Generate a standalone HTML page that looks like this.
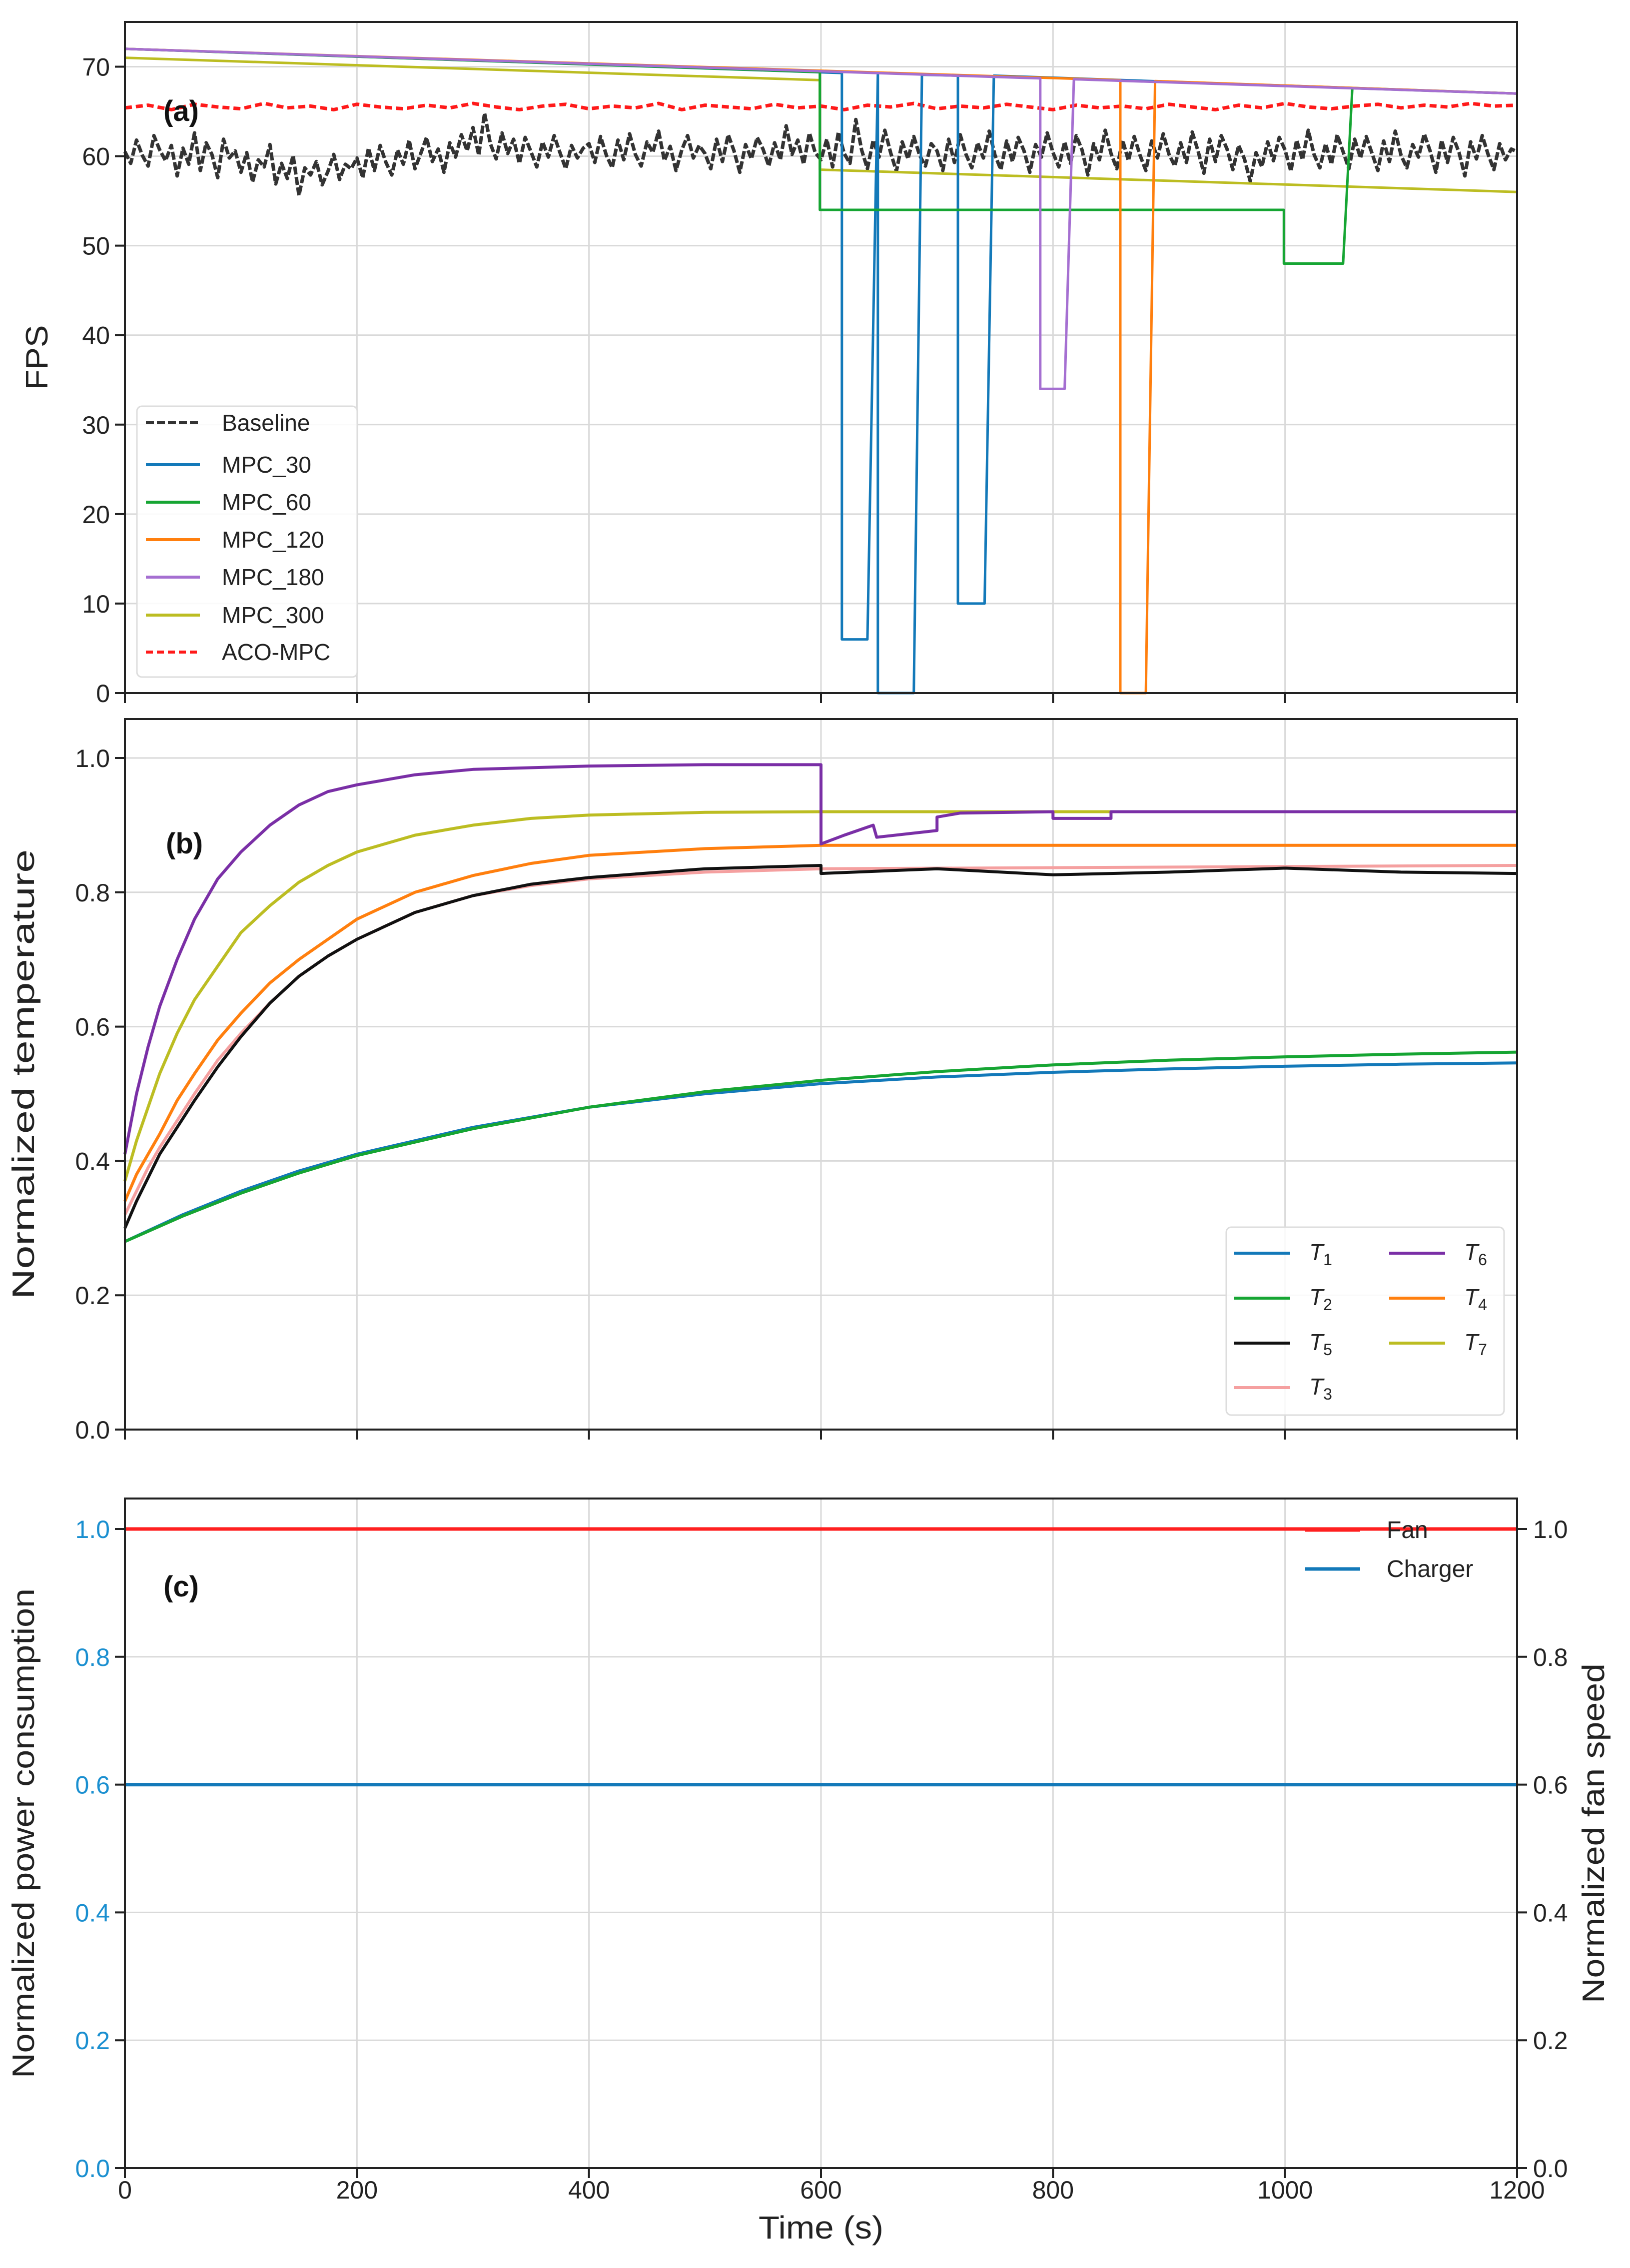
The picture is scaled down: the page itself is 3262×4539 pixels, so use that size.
<!DOCTYPE html>
<html><head><meta charset="utf-8"><style>
html,body{margin:0;padding:0;background:#fff;}
svg{display:block;font-family:"Liberation Sans",sans-serif;}
</style></head><body>
<svg id="chart" width="3262" height="4539" viewBox="0 0 3262 4539" xmlns="http://www.w3.org/2000/svg"></svg>
<script>
// ---------- data ----------
const xTicks = [0,200,400,600,800,1000,1200];
const fpsTicks = [0,10,20,30,40,50,60,70];
const tempTicks = [0,0.2,0.4,0.6,0.8,1.0];
const powTicks = [0,0.2,0.4,0.6,0.8,1.0];

const baselineStep = 5;
const baselineVals = [
60.5,59.2,61.8,60.1,58.9,62.3,60.7,59.5,61.2,57.8,60.9,59.1,62.6,58.4,61.5,60.2,57.6,61.9,59.8,60.6,
58.2,60.4,57.1,59.6,58.8,61.3,56.9,59.2,57.5,60.1,55.6,58.7,57.9,59.4,56.8,58.3,60.2,57.4,59.1,58.6,
59.8,57.6,60.9,58.4,61.2,59.3,57.9,60.7,59.1,61.8,58.6,60.3,62.1,59.4,60.8,58.2,61.5,59.9,62.4,60.6,
63.2,60.1,64.8,61.4,59.7,62.6,60.3,61.9,59.2,62.1,60.5,58.8,61.6,59.9,62.3,60.4,58.6,61.2,59.8,60.9,
61.4,59.3,62.2,60.1,58.7,61.8,59.6,62.5,60.2,58.9,61.6,60.4,62.8,59.5,61.1,58.4,60.7,62.3,59.8,61.2,
60.3,58.6,61.9,59.4,62.4,60.6,58.2,61.3,59.7,62.1,60.8,58.9,61.5,59.6,63.4,60.2,61.8,59.1,62.6,60.4,
59.6,61.9,58.8,62.7,60.3,59.2,64.1,60.7,58.6,61.8,59.9,62.9,60.4,58.3,61.6,59.7,62.2,60.1,58.9,61.4,
60.6,58.4,61.9,59.3,62.4,60.2,58.7,61.5,59.8,62.8,60.1,58.5,61.7,59.4,62.1,60.6,58.2,61.3,59.9,62.6,
60.4,58.8,61.6,59.2,62.3,60.7,57.9,61.4,59.6,62.9,60.3,58.6,61.8,59.5,62.2,60.1,58.4,61.7,59.8,62.5,
60.2,58.9,61.5,59.3,62.7,60.6,58.1,61.9,59.4,62.3,60.8,58.5,61.2,59.7,57.2,60.4,58.8,61.6,59.5,62.1,
60.7,58.3,61.8,59.6,62.9,60.2,58.7,61.4,59.1,62.4,60.5,58.6,61.9,59.8,62.2,60.3,58.4,61.7,59.4,62.8,
60.1,58.7,61.3,59.9,62.5,60.6,58.2,61.8,59.3,62.1,60.4,57.8,61.6,59.7,62.3,60.2,58.5,61.4,59.6,60.8,
60.5];
const acoStep = 20;
const acoVals = [65.4,65.7,65.2,65.8,65.5,65.3,65.9,65.4,65.6,65.2,65.8,65.5,65.3,65.7,65.4,65.9,65.5,65.2,65.6,65.8,
65.3,65.6,65.4,65.9,65.2,65.7,65.5,65.3,65.8,65.4,65.6,65.2,65.7,65.5,65.9,65.3,65.6,65.4,65.8,65.5,
65.2,65.7,65.4,65.6,65.3,65.8,65.5,65.2,65.7,65.4,65.9,65.5,65.3,65.6,65.8,65.4,65.7,65.5,65.9,65.6,65.7];

const mpc30T = [0,618,618,640,649,649,680,687,718,718,741,749,1200];
const mpc30V = [72,69.3,6,6,69.2,0,0,69.1,69.0,10,10,69.0,67];
const mpc60T = [0,599,599,999,999,1050,1058,1200];
const mpc60V = [72,69.4,54,54,48,48,67.6,67];
const mpc120T = [0,858,858,880,888,1200];
const mpc120V = [72,68.5,0,0,68.4,67];
const mpc180T = [0,789,789,810,818,1200];
const mpc180V = [72,68.7,34,34,68.6,67];
const mpc300T = [0,599,599,1200];
const mpc300V = [71,68.5,58.5,56];

const t6T = [0,10,20,30,45,60,80,100,125,150,175,200,250,300,400,500,600,600,620,645,648,700,700,720,800,800,850,850,1200];
const t6V = [0.41,0.5,0.57,0.63,0.7,0.76,0.82,0.86,0.9,0.93,0.95,0.96,0.975,0.983,0.988,0.99,0.99,0.872,0.885,0.9,0.882,0.892,0.912,0.918,0.92,0.91,0.91,0.92,0.92];
const t7T = [0,10,20,30,45,60,80,100,125,150,175,200,250,300,350,400,500,600,1200];
const t7V = [0.37,0.43,0.48,0.53,0.59,0.64,0.69,0.74,0.78,0.815,0.84,0.86,0.885,0.9,0.91,0.915,0.919,0.92,0.92];
const t4T = [0,10,20,30,45,60,80,100,125,150,175,200,250,300,350,400,500,600,1200];
const t4V = [0.34,0.38,0.41,0.44,0.49,0.53,0.58,0.62,0.665,0.7,0.73,0.76,0.8,0.825,0.843,0.855,0.865,0.87,0.87];
const t3T = [0,10,20,30,45,60,80,100,125,150,175,200,250,300,350,400,500,600,1200];
const t3V = [0.32,0.355,0.39,0.42,0.46,0.5,0.55,0.59,0.635,0.675,0.705,0.73,0.77,0.795,0.81,0.82,0.83,0.835,0.84];
const t5T = [0,10,20,30,45,60,80,100,125,150,175,200,250,300,350,400,500,600,600,700,800,900,1000,1100,1200];
const t5V = [0.3,0.34,0.375,0.41,0.45,0.49,0.54,0.585,0.635,0.675,0.705,0.73,0.77,0.795,0.812,0.822,0.835,0.84,0.828,0.835,0.826,0.83,0.836,0.83,0.828];
const t1T = [0,50,100,150,200,300,400,500,600,700,800,900,1000,1100,1200];
const t1V = [0.28,0.32,0.355,0.385,0.41,0.45,0.48,0.5,0.515,0.525,0.532,0.537,0.541,0.544,0.546];
const t2T = [0,50,100,150,200,300,400,500,600,700,800,900,1000,1100,1200];
const t2V = [0.28,0.318,0.352,0.382,0.408,0.448,0.48,0.503,0.52,0.533,0.543,0.55,0.555,0.559,0.562];

const fanT = [0,1200];
const fanV = [1.0,1.0];
const chargerT = [0,1200];
const chargerV = [0.6,0.6];

// ---------- layout ----------
const L=250,R=3036;
const xS = t => L + t*(R-L)/1200;
const A={top:44,bot:1387,max:75};
const B={top:1439,bot:2861,max:1.058};
const C={top:2999,bot:4339,max:1.0477};
const yS = (P,v) => P.bot - v*(P.bot-P.top)/P.max;

const svg=document.getElementById('chart');
const NS='http://www.w3.org/2000/svg';
function mk(tag,attrs,parent){const e=document.createElementNS(NS,tag);for(const k in attrs)e.setAttribute(k,attrs[k]);(parent||svg).appendChild(e);return e;}
function txt(s,attrs,parent){const e=mk('text',attrs,parent);e.textContent=s;return e;}

function panel(P,yt,fmt,name,tickColor){
  const g=mk('g',{});
  
  
  xTicks.forEach(t=>{const l=mk('line',{x1:xS(t),x2:xS(t),y1:P.top,y2:P.bot,stroke:'#d9d9d9','stroke-width':3},g);
    
    });
  yt.forEach(v=>{const l=mk('line',{x1:L,x2:R,y1:yS(P,v),y2:yS(P,v),stroke:'#d9d9d9','stroke-width':3},g);
    
    
    const tk=mk('line',{x1:L-20,x2:L,y1:yS(P,v),y2:yS(P,v),stroke:'#222','stroke-width':4},g);
    
    
    const lb=txt(fmt(v),{x:L-30,y:yS(P,v)+18,'text-anchor':'end','font-size':50,fill:tickColor||'#222'},g);
    
    });
  xTicks.forEach(t=>{const tk=mk('line',{x1:xS(t),x2:xS(t),y1:P.bot,y2:P.bot+20,stroke:'#222','stroke-width':4},g);
    
    });
  return g;
}
function frame(P){const r=mk('rect',{x:L,y:P.top,width:R-L,height:P.bot-P.top,fill:'none',stroke:'#222','stroke-width':4});
  
  }
function series(P,T,V,color,w,dash,name){
  let d='';T.forEach((t,i)=>{d+=(i?'L':'M')+xS(t).toFixed(1)+','+yS(P,V[i]).toFixed(1);});
  const p=mk('path',{d:d,fill:'none',stroke:color,'stroke-width':w,'stroke-linejoin':'round'});
  if(dash)p.setAttribute('stroke-dasharray',dash);
  
  
  return p;
}
function stepSeries(P,vals,step,color,w,dash,name){
  const T=vals.map((v,i)=>i*step);return series(P,T,vals,color,w,dash,name);
}
function vtitle(s,cx,cy,len,name){
  const e=txt(s,{x:0,y:0,'font-size':62,'text-anchor':'middle',textLength:len,lengthAdjust:'spacingAndGlyphs',transform:'translate('+cx+','+cy+') rotate(-90)',fill:'#222'});
  
  
}

const BLUE='#1379b9',GREEN='#16a533',ORANGE='#ff7f0e',PURPLE='#a56fd1',OLIVE='#bcbd22';

// ---------- panel a ----------
panel(A,fpsTicks,v=>String(v),'fps-panel');
stepSeries(A,baselineVals,baselineStep,'#333',7,'16 5','baseline-line');
stepSeries(A,acoVals,acoStep,'#ff1a1a',7,'14 8','aco-mpc-line');
series(A,mpc300T,mpc300V,OLIVE,5,null,'mpc-300-line');
series(A,mpc30T,mpc30V,BLUE,5,null,'mpc-30-line');
series(A,mpc60T,mpc60V,GREEN,5,null,'mpc-60-line');
series(A,mpc120T,mpc120V,ORANGE,5,null,'mpc-120-line');
series(A,mpc180T,mpc180V,PURPLE,5,null,'mpc-180-line');
frame(A);
let e;
e=txt('(a)',{x:327,y:242,'font-size':58,'font-weight':'bold',fill:'#111'});


vtitle('FPS',95,(A.top+A.bot)/2,130,'fps-axis-title');
// legend a
const legA=mk('g',{});


mk('rect',{x:274,y:813,width:441,height:542,rx:10,fill:'#fff','fill-opacity':0.85,stroke:'#ddd','stroke-width':3},legA);
const legAItems=[['Baseline','#333','16 6'],['MPC_30',BLUE,null],['MPC_60',GREEN,null],['MPC_120',ORANGE,null],['MPC_180',PURPLE,null],['MPC_300',OLIVE,null],['ACO-MPC','#ff1a1a','14 8']];
const legAY=[846,930,1005,1080,1155,1231,1305];
legAItems.forEach((it,i)=>{
  const ln=mk('line',{x1:292,x2:400,y1:legAY[i],y2:legAY[i],stroke:it[1],'stroke-width':6},legA);
  if(it[2])ln.setAttribute('stroke-dasharray',it[2]);
  
  
  const t=txt(it[0],{x:444,y:legAY[i]+16,'font-size':46,fill:'#222'},legA);
  
  
});

// ---------- panel b ----------
panel(B,tempTicks,v=>v.toFixed(1),'temperature-panel');
series(B,t1T,t1V,BLUE,6,null,'t1-line');
series(B,t2T,t2V,GREEN,6,null,'t2-line');
series(B,t3T,t3V,'#f5a0a0',6,null,'t3-line');
series(B,t5T,t5V,'#111',6,null,'t5-line');
series(B,t4T,t4V,ORANGE,6,null,'t4-line');
series(B,t7T,t7V,OLIVE,6,null,'t7-line');
series(B,t6T,t6V,'#7a2fa6',6,null,'t6-line');
frame(B);
e=txt('(b)',{x:332,y:1708,'font-size':58,'font-weight':'bold',fill:'#111'});


vtitle('Normalized temperature',68,(B.top+B.bot)/2,900,'temperature-axis-title');
const legB=mk('g',{});


mk('rect',{x:2454,y:2456,width:556,height:376,rx:10,fill:'#fff','fill-opacity':0.85,stroke:'#ddd','stroke-width':3},legB);
const legBItems=[['1',BLUE,2470,2508],['2',GREEN,2470,2598],['5','#111',2470,2688],['3','#f5a0a0',2470,2777],['6','#7a2fa6',2780,2508],['4',ORANGE,2780,2598],['7',OLIVE,2780,2688]];
legBItems.forEach(it=>{
  const ln=mk('line',{x1:it[2],x2:it[2]+112,y1:it[3],y2:it[3],stroke:it[1],'stroke-width':6},legB);
  
  
  const t=mk('text',{x:it[2]+150,y:it[3]+14,'font-size':46,fill:'#222'},legB);
  
  
  const a=document.createElementNS(NS,'tspan');a.setAttribute('font-style','italic');a.textContent='T';t.appendChild(a);
  const b=document.createElementNS(NS,'tspan');b.setAttribute('font-size','32');b.setAttribute('dy','10');b.textContent=it[0];t.appendChild(b);
});

// ---------- panel c ----------
panel(C,powTicks,v=>v.toFixed(1),'power-panel','#1a8fd0');
series(C,chargerT,chargerV,BLUE,7,null,'charger-line');
series(C,fanT,fanV,'#ff2020',7,null,'fan-line');
frame(C);
powTicks.forEach(v=>{
  const tk=mk('line',{x1:R,x2:R+20,y1:yS(C,v),y2:yS(C,v),stroke:'#222','stroke-width':4});
  
  
  const lb=txt(v.toFixed(1),{x:R+32,y:yS(C,v)+18,'font-size':50,fill:'#222'});
  
  
});
xTicks.forEach(t=>{
  const lb=txt(String(t),{x:xS(t),y:4400,'text-anchor':'middle','font-size':50,fill:'#222'});
  
  
});
e=txt('Time (s)',{x:(L+R)/2,y:4480,'text-anchor':'middle','font-size':64,textLength:250,lengthAdjust:'spacingAndGlyphs',fill:'#222'});


e=txt('(c)',{x:327,y:3195,'font-size':58,'font-weight':'bold',fill:'#111'});


vtitle('Normalized power consumption',68,(C.top+C.bot)/2,980,'power-axis-title');
vtitle('Normalized fan speed',3210,(C.top+C.bot)/2,680,'fan-speed-axis-title');
const legC=mk('g',{});


const legCItems=[['Fan','#ff2020',3062],['Charger','#1379b9',3140]];
legCItems.forEach(it=>{
  const ln=mk('line',{x1:2612,x2:2722,y1:it[2],y2:it[2],stroke:it[1],'stroke-width':7},legC);
  
  
  const t=txt(it[0],{x:2775,y:it[2]+16,'font-size':48,fill:'#222'},legC);
  
  
});
</script>
</body></html>
